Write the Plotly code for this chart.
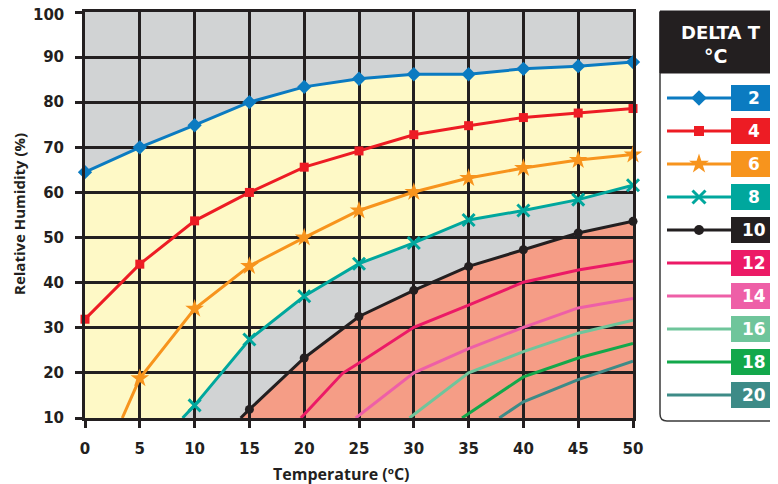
import plotly.graph_objects as go

# ---------------- data ----------------
temps = [0, 5, 10, 15, 20, 25, 30, 35, 40, 45, 50]
x_ticks = [0, 5, 10, 15, 20, 25, 30, 35, 40, 45, 50]
y_ticks = [10, 20, 30, 40, 50, 60, 70, 80, 90, 100]

t_dt2 = temps
rh_dt2 = [64.5, 70.0, 74.9, 80.0, 83.4, 85.2, 86.2, 86.2, 87.4, 88.0, 88.9]
t_dt4 = temps
rh_dt4 = [31.9, 44.1, 53.7, 60.0, 65.6, 69.2, 72.8, 74.8, 76.6, 77.6, 78.6]
t_dt6 = [3.4, 5, 10, 15, 20, 25, 30, 35, 40, 45, 50]
rh_dt6 = [10.0, 18.8, 34.2, 43.7, 50.0, 56.0, 60.1, 63.2, 65.4, 67.2, 68.4]
t_dt8 = [8.9, 10, 15, 20, 25, 30, 35, 40, 45, 50]
rh_dt8 = [10.0, 12.8, 27.4, 37.0, 44.2, 48.8, 53.9, 56.0, 58.4, 61.6]
t_dt10 = [14.2, 15, 20, 25, 30, 35, 40, 45, 50]
rh_dt10 = [10.0, 11.9, 23.3, 32.5, 38.3, 43.6, 47.3, 51.0, 53.6]
t_dt12 = [19.7, 23.5, 25, 30, 35, 40, 45, 50]
rh_dt12 = [10.0, 19.9, 22.2, 30.1, 35.0, 40.1, 42.8, 44.8]
t_dt14 = [24.7, 30, 35, 40, 45, 50]
rh_dt14 = [10.0, 20.0, 25.4, 30.1, 34.4, 36.5]
t_dt16 = [29.6, 35, 40, 45, 50]
rh_dt16 = [10.0, 20.0, 24.7, 28.8, 31.7]
t_dt18 = [34.4, 40, 45, 50]
rh_dt18 = [10.0, 19.1, 23.3, 26.5]
t_dt20 = [37.8, 40, 45, 50]
rh_dt20 = [10.0, 13.6, 18.5, 22.6]

dt_labels = ["2", "4", "6", "8", "10", "12", "14", "16", "18", "20"]
legend_title = ["DELTA T", "°C"]

# ---------------- styles ----------------
colors = ["#0b7bc1", "#ed1c24", "#f7941d", "#00a79d", "#231f20",
          "#ec1a66", "#ee5fa7", "#6fc59b", "#13a84b", "#3d8b87"]
symbols = ["diamond", "square", "star", "x-thin", "circle", None, None, None, None, None]
msizes = [11, 9, 14, 12, 9, 0, 0, 0, 0, 0]
series = [(t_dt2, rh_dt2), (t_dt4, rh_dt4), (t_dt6, rh_dt6), (t_dt8, rh_dt8),
          (t_dt10, rh_dt10), (t_dt12, rh_dt12), (t_dt14, rh_dt14),
          (t_dt16, rh_dt16), (t_dt18, rh_dt18), (t_dt20, rh_dt20)]

INK = "#231f20"
GRAY = "#d1d3d4"
YELLOW = "#fef9c6"
SALMON = "#f59d86"
OFF = 8                      # page body margin
W, H = 778 - OFF, 484 - OFF  # figure size
PX_L, PX_R, PX_T, PX_B = 85, 633, 12, 418   # plot area in page pixels

fig = go.Figure()

# data lines
for i, (tx, ry) in enumerate(series):
    fig.add_trace(go.Scatter(x=tx, y=ry, mode="lines",
                             line=dict(color=colors[i], width=3),
                             showlegend=False, hoverinfo="skip", cliponaxis=False))
    if symbols[i]:
        mx = [a for a in tx if a in temps]
        my = [b for a, b in zip(tx, ry) if a in temps]
        mk = dict(color=colors[i], size=msizes[i], symbol=symbols[i])
        if symbols[i] == "x-thin":
            mk["line"] = dict(color=colors[i], width=3)
        fig.add_trace(go.Scatter(x=mx, y=my, mode="markers", marker=mk,
                                 showlegend=False, hoverinfo="skip", cliponaxis=False))

# background zones (shapes below the grid)
shapes = [dict(type="rect", xref="x domain", yref="y domain", x0=0, x1=1, y0=0, y1=1,
               fillcolor=GRAY, line=dict(width=0), layer="below")]
ymin = y_ticks[0]
pts = list(zip(t_dt2, rh_dt2)) + list(zip(t_dt8[::-1], rh_dt8[::-1])) + [(t_dt2[0], ymin)]
path = "M " + " L ".join(f"{a},{b}" for a, b in pts) + " Z"
shapes.append(dict(type="path", xref="x", yref="y", path=path, fillcolor=YELLOW,
                   line=dict(width=0), layer="below"))
pts = list(zip(t_dt10, rh_dt10)) + [(t_dt10[-1], ymin)]
path = "M " + " L ".join(f"{a},{b}" for a, b in pts) + " Z"
shapes.append(dict(type="path", xref="x", yref="y", path=path, fillcolor=SALMON,
                   line=dict(width=0), layer="below"))

# ---------------- custom legend (page-pixel coords on x2/y2) ----------------
LX0, LX1 = 660, 790
shapes.append(dict(type="path", xref="x2", yref="y2",
                   path=f"M {LX0},12 L {LX0},414 Q {LX0},421 667,421 L {LX1},421",
                   line=dict(color="#3a3a3a", width=1.5), layer="above"))
shapes.append(dict(type="rect", xref="x2", yref="y2", x0=LX0, x1=LX1, y0=11, y1=73,
                   fillcolor=INK, line=dict(color=INK, width=1), layer="above"))
annotations = [
    dict(xref="x2", yref="y2", x=721, y=32, text=f"<b>{legend_title[0]}</b>", showarrow=False,
         font=dict(family="DejaVu Sans", size=18, color="white")),
    dict(xref="x2", yref="y2", x=715, y=56, text=f"<b>{legend_title[1]}</b>", showarrow=False,
         font=dict(family="DejaVu Sans", size=19, color="white")),
]
row_y = [98 + 33 * i for i in range(len(dt_labels))]
for i, lab in enumerate(dt_labels):
    cy = row_y[i]
    fig.add_trace(go.Scatter(x=[667, 731], y=[cy, cy], mode="lines",
                             line=dict(color=colors[i], width=3),
                             xaxis="x2", yaxis="y2", showlegend=False, hoverinfo="skip"))
    if symbols[i]:
        mk = dict(color=colors[i], size=msizes[i] + 1, symbol=symbols[i])
        if symbols[i] == "x-thin":
            mk["line"] = dict(color=colors[i], width=3)
        fig.add_trace(go.Scatter(x=[699], y=[cy], mode="markers", marker=mk,
                                 xaxis="x2", yaxis="y2", showlegend=False, hoverinfo="skip"))
    shapes.append(dict(type="rect", xref="x2", yref="y2", x0=731, x1=776,
                       y0=cy - 13, y1=cy + 13, fillcolor=colors[i],
                       line=dict(width=0), layer="above"))
    annotations.append(dict(xref="x2", yref="y2", x=753.5, y=cy, text=f"<b>{lab}</b>",
                            showarrow=False,
                            font=dict(family="DejaVu Sans", size=17, color="white")))

# axis titles
annotations.append(dict(xref="x2", yref="y2", x=341, y=474, text="<b>Temperature (ºC)</b>",
                        showarrow=False, font=dict(family="Open Sans", size=16, color=INK)))
annotations.append(dict(xref="x2", yref="y2", x=19, y=214, text="<b>Relative Humidity (%)</b>",
                        showarrow=False, textangle=-90,
                        font=dict(family="Open Sans", size=15, color=INK)))

tickfont = dict(family="DejaVu Sans", size=15, color=INK, weight="bold")
# top tick label sits at the very edge of the page; draw it as text so it is not dropped
annotations.append(dict(xref="x2", yref="y2", x=66, y=15, xanchor="right",
                        text=str(y_ticks[-1]), showarrow=False, font=tickfont))
y_ticktext = [str(v) for v in y_ticks[:-1]] + [""]

fig.update_layout(
    width=W, height=H, margin=dict(l=0, r=0, t=0, b=0, autoexpand=False),
    paper_bgcolor="white", plot_bgcolor="rgba(0,0,0,0)",
    xaxis=dict(domain=[(PX_L - OFF) / W, (PX_R - OFF) / W],
               range=[x_ticks[0], x_ticks[-1]],
               tickvals=x_ticks, ticktext=[str(v) for v in x_ticks], automargin=False,
               showgrid=True, gridcolor=INK, gridwidth=2.5,
               showline=True, linecolor=INK, linewidth=3, mirror=True,
               ticks="outside", ticklen=7, tickwidth=2.5, tickcolor=INK,
               ticklabelstandoff=8, tickfont=tickfont, zeroline=False, fixedrange=True),
    yaxis=dict(domain=[1 - (PX_B - OFF) / H, 1 - (PX_T - OFF) / H],
               range=[y_ticks[0], y_ticks[-1]],
               tickvals=y_ticks, ticktext=y_ticktext, automargin=False,
               showgrid=True, gridcolor=INK, gridwidth=2.5,
               showline=True, linecolor=INK, linewidth=3, mirror=True,
               ticks="outside", ticklen=7, tickwidth=2.5, tickcolor=INK,
               ticklabelstandoff=8, tickfont=tickfont, zeroline=False, fixedrange=True),
    xaxis2=dict(domain=[0, 1], range=[OFF, OFF + W], anchor="y2", visible=False,
                fixedrange=True, automargin=False),
    yaxis2=dict(domain=[0, 1], range=[OFF + H, OFF], anchor="x2", visible=False,
                fixedrange=True, automargin=False),
    shapes=shapes, annotations=annotations, showlegend=False,
)

fig.write_html("out.html")
